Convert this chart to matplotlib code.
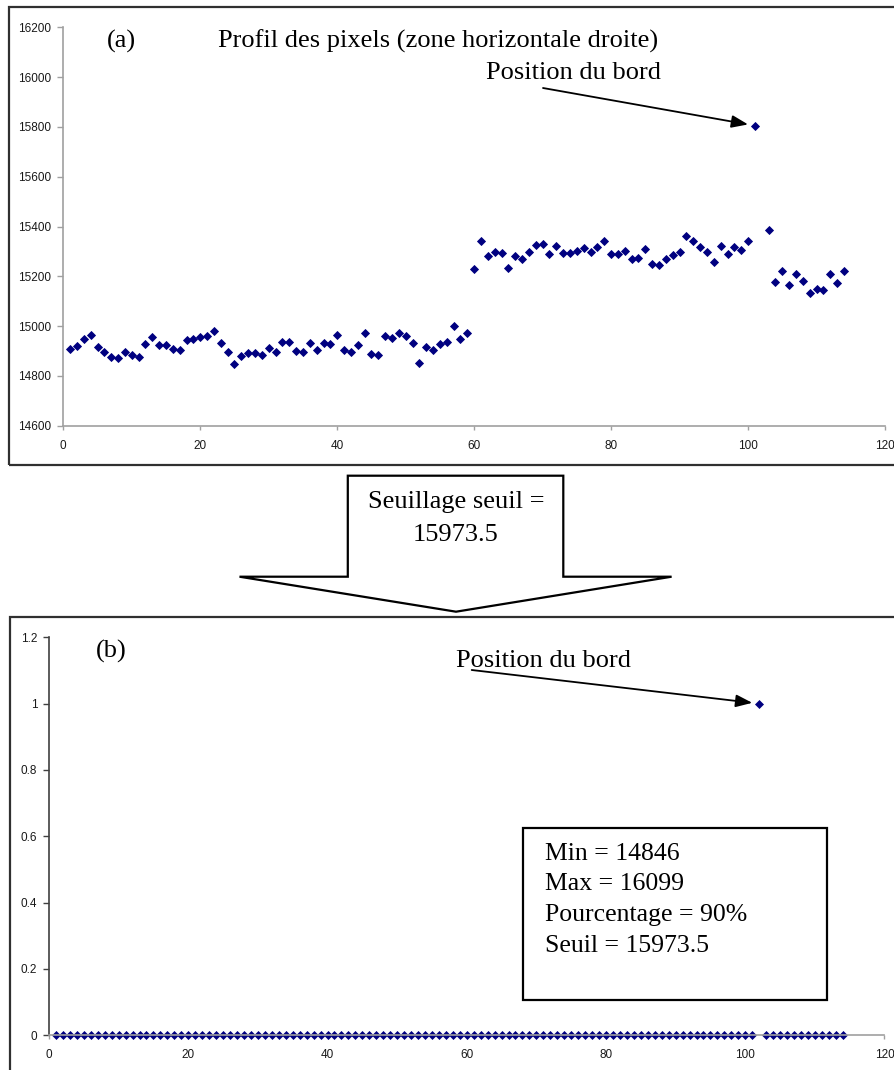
import matplotlib
matplotlib.use('Agg')
import matplotlib.pyplot as plt
from matplotlib.patches import Rectangle, Polygon
from matplotlib.ticker import FormatStrFormatter

# Profil des pixels (zone horizontale droite) - position 102 has no value
profile_x = list(range(1, 102)) + list(range(103, 115))
profile_y = [
    14907, 14921, 14950, 14966, 14917, 14895, 14876, 14870, 14895, 14884,
    14876, 14930, 14958, 14923, 14923, 14907, 14904, 14943, 14947, 14955,
    14962, 14980, 14931, 14895, 14846, 14880, 14891, 14891, 14883, 14912,
    14895, 14938, 14938, 14899, 14895, 14934, 14904, 14931, 14927, 14966,
    14904, 14897, 14923, 14972, 14887, 14884, 14960, 14954, 14972, 14962,
    14934, 14852, 14916, 14904, 14930, 14938, 15000, 14950, 14972, 15230,
    15340, 15281, 15297, 15293, 15234, 15281, 15271, 15299, 15327, 15331,
    15289, 15323, 15293, 15295, 15301, 15315, 15297, 15319, 15340, 15291,
    15291, 15303, 15269, 15273, 15311, 15250, 15244, 15269, 15287, 15297,
    15360, 15340, 15319, 15297, 15256, 15323, 15291, 15319, 15307, 15340,
    15805,
    15385, 15176, 15223, 15164, 15211, 15183, 15132, 15149, 15145, 15211,
    15172, 15223,
]
edge_a = (101, 15805)

# result of the thresholding
binary_x = list(range(1, 115))
binary_y = [
    0, 0, 0, 0, 0, 0, 0, 0, 0, 0, 0, 0, 0, 0, 0, 0, 0, 0, 0, 0,
    0, 0, 0, 0, 0, 0, 0, 0, 0, 0, 0, 0, 0, 0, 0, 0, 0, 0, 0, 0,
    0, 0, 0, 0, 0, 0, 0, 0, 0, 0, 0, 0, 0, 0, 0, 0, 0, 0, 0, 0,
    0, 0, 0, 0, 0, 0, 0, 0, 0, 0, 0, 0, 0, 0, 0, 0, 0, 0, 0, 0,
    0, 0, 0, 0, 0, 0, 0, 0, 0, 0, 0, 0, 0, 0, 0, 0, 0, 0, 0, 0,
    0, 1, 0, 0, 0, 0, 0, 0, 0, 0, 0, 0, 0, 0,
]
edge_b = (102, 1)

val_min = 14846
val_max = 16099
pourcentage = 90
seuil = 15973.5

W, H = 894, 1070
SERIF = 'Liberation Serif'
SANS = 'Liberation Sans'
NAVY = '#000080'

fig = plt.figure(figsize=(W / 100, H / 100), dpi=100)


def fbox(x0, y0, x1, y1):
    # pixel box (top-left origin) -> figure fraction rect
    return [x0 / W, 1 - y1 / H, (x1 - x0) / W, (y1 - y0) / H]


def fpt(x, y):
    return (x / W, 1 - y / H)


# chart frames
for x0, y0, x1, y1 in [(8.5, 7, 910, 465), (9.5, 616.7, 910, 1090)]:
    r = fbox(x0, y0, x1, y1)
    fig.patches.append(Rectangle((r[0], r[1]), r[2], r[3], transform=fig.transFigure,
                                 fill=False, ec='#303030', lw=1.6))


def style_axes(ax, left_color, bottom_color):
    ax.spines['top'].set_visible(False)
    ax.spines['right'].set_visible(False)
    ax.spines['left'].set_color(left_color)
    ax.spines['bottom'].set_color(bottom_color)
    ax.spines['left'].set_linewidth(1.2)
    ax.spines['bottom'].set_linewidth(1.2)
    ax.tick_params(axis='y', direction='out', length=4, width=1, color=left_color,
                   labelsize=8.5, pad=4.5, labelcolor='#1a1a1a')
    ax.tick_params(axis='x', direction='out', length=3, width=1, color=bottom_color,
                   labelsize=8.5, pad=7, labelcolor='#1a1a1a')
    for lab in ax.get_xticklabels() + ax.get_yticklabels():
        lab.set_family(SANS)
    ax.set_xticks(range(0, 121, 20))
    ax.set_xlim(0, 120)
    ax.patch.set_alpha(0)


# (a) raw profile
ax1 = fig.add_axes(fbox(63.3, 27.3, 885, 425.7))
ax1.plot(profile_x, profile_y, ls='none', marker='D', ms=3.6, mew=0.6,
         color=NAVY, clip_on=False)
ax1.set_ylim(14600, 16200)
ax1.set_yticks(range(14600, 16201, 200))
style_axes(ax1, '#a0a0a0', '#a0a0a0')

fig.text(*fpt(121.7, 41), '(a)', ha='center', va='center', family=SERIF, size=19)
fig.text(*fpt(438, 41), 'Profil des pixels (zone horizontale droite)',
         ha='center', va='center', family=SERIF, size=19)
fig.text(*fpt(573, 73), 'Position du bord', ha='center', va='center',
         family=SERIF, size=19)
ax1.annotate('', xy=edge_a, xytext=(543, H - 88), textcoords='figure pixels',
             arrowprops=dict(arrowstyle='-|>,head_length=1.0,head_width=0.38',
                             color='black', lw=1.3, shrinkA=0, shrinkB=5))

# block arrow between the two charts
arrow_px = [(347.8, 475.7), (563.3, 475.7), (563.3, 576.7), (671.6, 576.7),
            (456, 611.7), (239.5, 576.7), (347.8, 576.7)]
fig.patches.append(Polygon([fpt(x, y) for x, y in arrow_px], closed=True,
                           transform=fig.transFigure, fc='white', ec='black', lw=1.6))
fig.text(*fpt(456, 502), 'Seuillage seuil =', ha='center', va='center',
         family=SERIF, size=19)
fig.text(*fpt(456, 535), f'{seuil}', ha='center', va='center', family=SERIF, size=19)

# (b) thresholded profile
ax2 = fig.add_axes(fbox(49, 637.3, 884.5, 1035.3))
ax2.plot(binary_x, binary_y, ls='none', marker='D', ms=3.7, mew=0.5,
         color=NAVY, clip_on=False)
ax2.set_ylim(0, 1.2)
ax2.set_yticks([0, 0.2, 0.4, 0.6, 0.8, 1, 1.2])
ax2.yaxis.set_major_formatter(FormatStrFormatter('%g'))
style_axes(ax2, '#404040', '#a0a0a0')

fig.text(*fpt(111, 651), '(b)', ha='center', va='center', family=SERIF, size=19)
fig.text(*fpt(543, 661), 'Position du bord', ha='center', va='center',
         family=SERIF, size=19)
ax2.annotate('', xy=edge_b, xytext=(471.7, H - 670), textcoords='figure pixels',
             arrowprops=dict(arrowstyle='-|>,head_length=1.0,head_width=0.38',
                             color='black', lw=1.3, shrinkA=0, shrinkB=5))

r = fbox(523.3, 827.7, 826.7, 1000)
fig.patches.append(Rectangle((r[0], r[1]), r[2], r[3], transform=fig.transFigure,
                             fill=False, ec='black', lw=1.6))
box_lines = [f'Min = {val_min}', f'Max = {val_max}',
             f'Pourcentage = {pourcentage}%', f'Seuil = {seuil}']
for i, line in enumerate(box_lines):
    fig.text(*fpt(545, 853.5 + i * 30.7), line, ha='left', va='center',
             family=SERIF, size=18.5)

fig.savefig('out.png', dpi=100)
